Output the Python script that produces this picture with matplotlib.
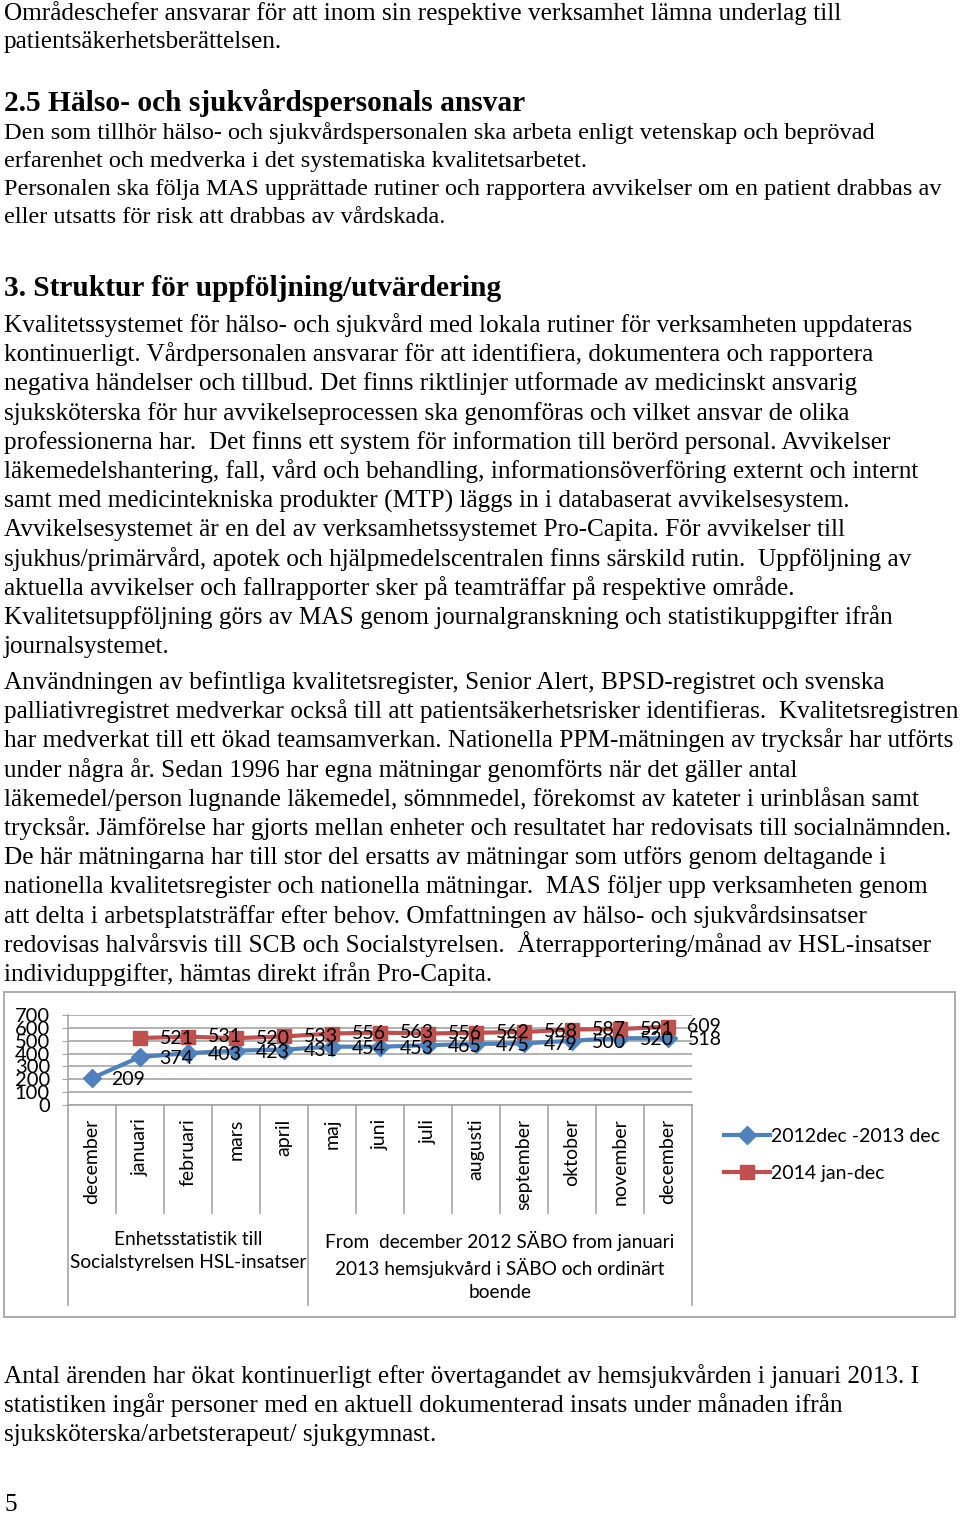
import numpy as np
import matplotlib
matplotlib.use('Agg')
import matplotlib.pyplot as plt
from matplotlib.patches import Rectangle
from matplotlib.lines import Line2D

# data for the chart
months = ['december', 'januari', 'februari', 'mars', 'april', 'maj', 'juni',
          'juli', 'augusti', 'september', 'oktober', 'november', 'december']
serie_2013 = [209, 374, 403, 423, 431, 454, 453, 465, 475, 479, 500, 520, 518]
serie_2014 = [np.nan, 521, 531, 520, 533, 556, 563, 556, 562, 568, 587, 591, 609]
legend_labels = ['2012dec -2013 dec', '2014 jan-dec']
y_ticks = [0, 100, 200, 300, 400, 500, 600, 700]
group_labels = ['Enhetsstatistik till\nSocialstyrelsen HSL-insatser',
                'From  december 2012 SÄBO from januari\n2013 hemsjukvård i SÄBO och ordinärt\nboende']
group_spans = [(0, 4), (5, 12)]

BLUE = '#4F81BD'
RED = '#C0504D'
GREY = '#A6A6A6'
SERIF = 'Liberation Serif'
SANS = 'Lato'
FS = 14  # chart font size

W, H = 960, 1515

def fx(px):
    return px / W

def fy(px):
    return 1 - px / H

fig = plt.figure(figsize=(W / 100, H / 100), dpi=100)

# --- page text ---
def line(txt, base, size=18.2, weight='normal'):
    fig.text(fx(4), fy(base), txt, family=SERIF, fontsize=size,
             weight=weight, va='baseline', ha='left')

line('Områdeschefer ansvarar för att inom sin respektive verksamhet lämna underlag till', 20)
line('patientsäkerhetsberättelsen.', 48)
line('2.5 Hälso- och sjukvårdspersonals ansvar', 111, size=21.2, weight='bold')
line('Den som tillhör hälso- och sjukvårdspersonalen ska arbeta enligt vetenskap och beprövad', 139, size=17.5)
line('erfarenhet och medverka i det systematiska kvalitetsarbetet.', 167, size=17.5)
line('Personalen ska följa MAS upprättade rutiner och rapportera avvikelser om en patient drabbas av', 195, size=17.5)
line('eller utsatts för risk att drabbas av vårdskada.', 223, size=17.5)
line('3. Struktur för uppföljning/utvärdering', 296, size=21.2, weight='bold')

block1 = [
    'Kvalitetssystemet för hälso- och sjukvård med lokala rutiner för verksamheten uppdateras',
    'kontinuerligt. Vårdpersonalen ansvarar för att identifiera, dokumentera och rapportera',
    'negativa händelser och tillbud. Det finns riktlinjer utformade av medicinskt ansvarig',
    'sjuksköterska för hur avvikelseprocessen ska genomföras och vilket ansvar de olika',
    'professionerna har.  Det finns ett system för information till berörd personal. Avvikelser',
    'läkemedelshantering, fall, vård och behandling, informationsöverföring externt och internt',
    'samt med medicintekniska produkter (MTP) läggs in i databaserat avvikelsesystem.',
    'Avvikelsesystemet är en del av verksamhetssystemet Pro-Capita. För avvikelser till',
    'sjukhus/primärvård, apotek och hjälpmedelscentralen finns särskild rutin.  Uppföljning av',
    'aktuella avvikelser och fallrapporter sker på teamträffar på respektive område.',
    'Kvalitetsuppföljning görs av MAS genom journalgranskning och statistikuppgifter ifrån',
    'journalsystemet.',
]
for i, t in enumerate(block1):
    line(t, 332 + i * 29.2, size=18.15)

block2 = [
    'Användningen av befintliga kvalitetsregister, Senior Alert, BPSD-registret och svenska',
    'palliativregistret medverkar också till att patientsäkerhetsrisker identifieras.  Kvalitetsregistren',
    'har medverkat till ett ökad teamsamverkan. Nationella PPM-mätningen av trycksår har utförts',
    'under några år. Sedan 1996 har egna mätningar genomförts när det gäller antal',
    'läkemedel/person lugnande läkemedel, sömnmedel, förekomst av kateter i urinblåsan samt',
    'trycksår. Jämförelse har gjorts mellan enheter och resultatet har redovisats till socialnämnden.',
    'De här mätningarna har till stor del ersatts av mätningar som utförs genom deltagande i',
    'nationella kvalitetsregister och nationella mätningar.  MAS följer upp verksamheten genom',
    'att delta i arbetsplatsträffar efter behov. Omfattningen av hälso- och sjukvårdsinsatser',
    'redovisas halvårsvis till SCB och Socialstyrelsen.  Återrapportering/månad av HSL-insatser',
    'individuppgifter, hämtas direkt ifrån Pro-Capita.',
]
for i, t in enumerate(block2):
    line(t, 689 + i * 29.2, size=18.15)

line('Antal ärenden har ökat kontinuerligt efter övertagandet av hemsjukvården i januari 2013. I', 1383)
line('statistiken ingår personer med en aktuell dokumenterad insats under månaden ifrån', 1412)
line('sjuksköterska/arbetsterapeut/ sjukgymnast.', 1441)
line('5', 1511)

# --- chart ---
fig.patches.append(Rectangle((fx(4), fy(1317)), fx(951), (1317 - 992) / H,
                             transform=fig.transFigure, fill=False,
                             edgecolor=GREY, lw=1.3))

ax = fig.add_axes([fx(68), fy(1105), fx(624), 90 / H])
x = np.arange(len(months))
ax.set_xlim(-0.5, len(months) - 0.5)
ax.set_ylim(0, 700)
ax.set_yticks(y_ticks)
ax.set_yticklabels([str(v) for v in y_ticks], family=SANS, fontsize=FS + 0.5)
ax.tick_params(axis='y', length=4, color=GREY, pad=9)
ax.set_xticks([])
ax.yaxis.grid(True, color=GREY, lw=1.2)
ax.set_axisbelow(True)
for s in ['top', 'right']:
    ax.spines[s].set_visible(False)
for s in ['left', 'bottom']:
    ax.spines[s].set_color(GREY)
    ax.spines[s].set_linewidth(1.2)

ax.plot(x, serie_2013, color=BLUE, lw=3, marker='D', ms=9, label=legend_labels[0],
        clip_on=False, zorder=3)
ax.plot(x, serie_2014, color=RED, lw=3, marker='s', ms=10, label=legend_labels[1],
        clip_on=False, zorder=3)

for xi, v in zip(x, serie_2013):
    ax.annotate(str(v), (xi, v), xytext=(14, -1), textcoords='offset points',
                va='center', ha='left', family=SANS, fontsize=FS, zorder=4)
for xi, v in zip(x, serie_2014):
    if not np.isnan(v):
        ax.annotate(str(int(v)), (xi, v), xytext=(14, 0), textcoords='offset points',
                    va='center', ha='left', family=SANS, fontsize=FS, zorder=4)

# category axis with separators and group labels
tr = ax.get_xaxis_transform()
for i, m in enumerate(months):
    ax.text(i, -0.15, m, rotation=90, ha='center', va='top', transform=tr,
            family=SANS, fontsize=FS)
bounds = [a - 0.5 for a, _ in group_spans] + [group_spans[-1][1] + 0.5]
for k in range(len(months) + 1):
    b = k - 0.5
    low = -2.22 if b in bounds else -1.2
    ax.add_line(Line2D([b, b], [0, low], transform=tr, color=GREY, lw=1.2,
                       clip_on=False))
for (a, b), lab in zip(group_spans, group_labels):
    ax.text((a + b) / 2, -1.40, lab, ha='center', va='top', transform=tr,
            family=SANS, fontsize=FS - 0.2, linespacing=1.4)

ax.legend(loc='upper left', bbox_to_anchor=(fx(714), fy(1118)),
          bbox_transform=fig.transFigure, frameon=False,
          prop={'family': SANS, 'size': FS}, handlelength=2.4,
          handletextpad=0.05, labelspacing=1.05, borderpad=0)

fig.savefig('out.png', dpi=100)
